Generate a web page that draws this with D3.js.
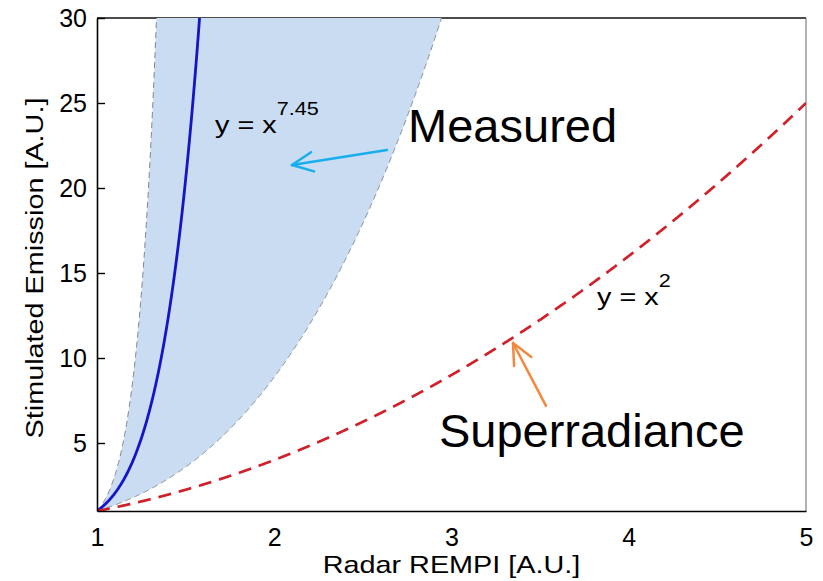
<!DOCTYPE html>
<html>
<head>
<meta charset="utf-8">
<script src="https://cdn.jsdelivr.net/npm/d3@7"></script>
<style>
  html, body { margin: 0; padding: 0; background: #fff; }
  svg { display: block; font-family: "Liberation Sans", Arial, Helvetica, sans-serif; }
</style>
</head>
<body>
<svg id="chart" width="823" height="581"></svg>
<script>
// Axis ranges and tick labels
const xDomain = [1, 5];
const yDomain = [1, 30];
const xTicks = [1, 2, 3, 4, 5];
const yTicks = [5, 10, 15, 20, 25, 30];

// Power-law exponents (y = x^n)
const fitExponent = [7.45];            // measured fit
const bandExponents = [3.15, 11.75];   // measured uncertainty band (lower, upper)
const superExponent = [2];             // superradiance scaling

// Annotation anchors in data units
const measuredLabel = [2.755, 22.7];
const measuredArrow = [[2.636, 22.24], [2.10, 21.35]];
const superLabel = [2.929, 4.76];
const superArrow = [[3.533, 7.18], [3.347, 10.88]];
const fitLabel = [1.666, 23.24];
const superFitLabel = [3.821, 13.12];

const svg = d3.select("#chart");
const margin = { top: 18, right: 17, bottom: 70, left: 97 };
const W = +svg.attr("width"), H = +svg.attr("height");
const x = d3.scaleLinear().domain(xDomain).range([margin.left, W - margin.right]);
const y = d3.scaleLinear().domain(yDomain).range([H - margin.bottom, margin.top]);

svg.append("defs").append("clipPath").attr("id", "plot")
  .append("rect")
  .attr("x", x(xDomain[0])).attr("y", y(yDomain[1]))
  .attr("width", x(xDomain[1]) - x(xDomain[0]))
  .attr("height", y(yDomain[0]) - y(yDomain[1]));

// Top and right frame lines (drawn beneath the shaded band)
svg.append("line")
  .attr("x1", x(xDomain[0])).attr("x2", x(xDomain[1]))
  .attr("y1", y(yDomain[1])).attr("y2", y(yDomain[1]))
  .attr("stroke", "#111").attr("stroke-width", 1.5);
svg.append("line")
  .attr("x1", x(xDomain[1])).attr("x2", x(xDomain[1]))
  .attr("y1", y(yDomain[1])).attr("y2", y(yDomain[0]))
  .attr("stroke", "#666").attr("stroke-width", 1);

// Evaluation grid for the power-law curves (dense near x = 1 where they are steep)
const grid = d3.range(0, 1.0001, 0.0005).map(t => xDomain[0] + t * (xDomain[1] - xDomain[0]));
const pow = n => grid.map(v => ({ x: v, y: Math.pow(v, n) }));

const plot = svg.append("g").attr("clip-path", "url(#plot)");

// Shaded uncertainty band
const bandLo = bandExponents[0], bandHi = bandExponents[1];
plot.append("path")
  .datum(grid)
  .attr("fill", "rgb(202,220,242)")
  .attr("d", d3.area()
    .x(v => x(v))
    .y0(v => y(Math.pow(v, bandLo)))
    .y1(v => y(Math.min(Math.pow(v, bandHi), 1e4))));

const line = d3.line().x(d => x(d.x)).y(d => y(Math.min(d.y, 1e4)));

// Band edges
bandExponents.forEach(n => {
  plot.append("path")
    .datum(pow(n))
    .attr("fill", "none")
    .attr("stroke", "#7f8690")
    .attr("stroke-width", 1)
    .attr("stroke-dasharray", "6,4")
    .attr("d", line);
});

// Fit curve
plot.append("path")
  .datum(pow(fitExponent[0]))
  .attr("fill", "none")
  .attr("stroke", "#1414c8")
  .attr("stroke-width", 2.8)
  .attr("d", line);

// Superradiance curve
plot.append("path")
  .datum(pow(superExponent[0]))
  .attr("fill", "none")
  .attr("stroke", "#d0202a")
  .attr("stroke-width", 2.7)
  .attr("stroke-dasharray", "13,8")
  .attr("d", line);

// Axes
const yAxis = d3.axisLeft(y).tickValues(yTicks).tickSizeInner(-8).tickSizeOuter(0).tickPadding(10);
const gy = svg.append("g").attr("transform", `translate(${x(xDomain[0])},0)`).call(yAxis);
const xAxis = d3.axisBottom(x).tickValues(xTicks).tickSize(0).tickPadding(17).tickFormat(d3.format("d"));
const gx = svg.append("g").attr("transform", `translate(0,${y(yDomain[0])})`).call(xAxis);

[gx, gy].forEach(g => {
  g.select(".domain").attr("stroke", "#000").attr("stroke-width", 1.6);
  g.selectAll(".tick line").attr("stroke", "#000").attr("stroke-width", 1.4);
  g.selectAll(".tick text").attr("fill", "#000")
    .style("font-size", "25px").style("font-family", "\"Liberation Sans\", Arial, sans-serif");
});

// Axis titles (wide-set lettering)
const wide = 1.2;
svg.append("text")
  .attr("transform", `translate(${(x(xDomain[0]) + x(xDomain[1])) / 2},573) scale(${wide},1)`)
  .attr("text-anchor", "middle")
  .attr("font-size", 24)
  .text("Radar REMPI [A.U.]");

svg.append("text")
  .attr("transform", `translate(43,268) rotate(-90) scale(${wide},1)`)
  .attr("text-anchor", "middle")
  .attr("font-size", 24)
  .text("Stimulated Emission [A.U.]");

// Formula labels with superscript exponents
function powerLabel(pos, exponent) {
  const t = svg.append("text")
    .attr("transform", `translate(${x(pos[0])},${y(pos[1])}) scale(${wide},1)`)
    .attr("font-size", 24);
  t.append("tspan").text("y = x");
  t.append("tspan")
    .attr("dy", -18)
    .attr("font-size", 18)
    .text(exponent);
}
powerLabel(fitLabel, fitExponent[0].toString());
powerLabel(superFitLabel, superExponent[0].toString());

// Callout labels
svg.append("text")
  .attr("x", x(measuredLabel[0])).attr("y", y(measuredLabel[1]))
  .attr("font-size", 47).text("Measured");
svg.append("text")
  .attr("x", x(superLabel[0])).attr("y", y(superLabel[1]))
  .attr("font-size", 47).text("Superradiance");

// Callout arrows
function arrow(pts, color) {
  const [tail, tip] = pts.map(p => [x(p[0]), y(p[1])]);
  const g = svg.append("g").attr("stroke", color).attr("stroke-width", 2.5)
    .attr("fill", "none").attr("stroke-linecap", "round");
  g.append("line").attr("x1", tail[0]).attr("y1", tail[1]).attr("x2", tip[0]).attr("y2", tip[1]);
  const ang = Math.atan2(tail[1] - tip[1], tail[0] - tip[0]);
  const len = 23, spread = 25 * Math.PI / 180;
  [-spread, spread].forEach(s => {
    g.append("line")
      .attr("x1", tip[0]).attr("y1", tip[1])
      .attr("x2", tip[0] + len * Math.cos(ang + s))
      .attr("y2", tip[1] + len * Math.sin(ang + s));
  });
}
arrow(measuredArrow, "#18aeee");
arrow(superArrow, "#f5883c");
</script>
</body>
</html>
